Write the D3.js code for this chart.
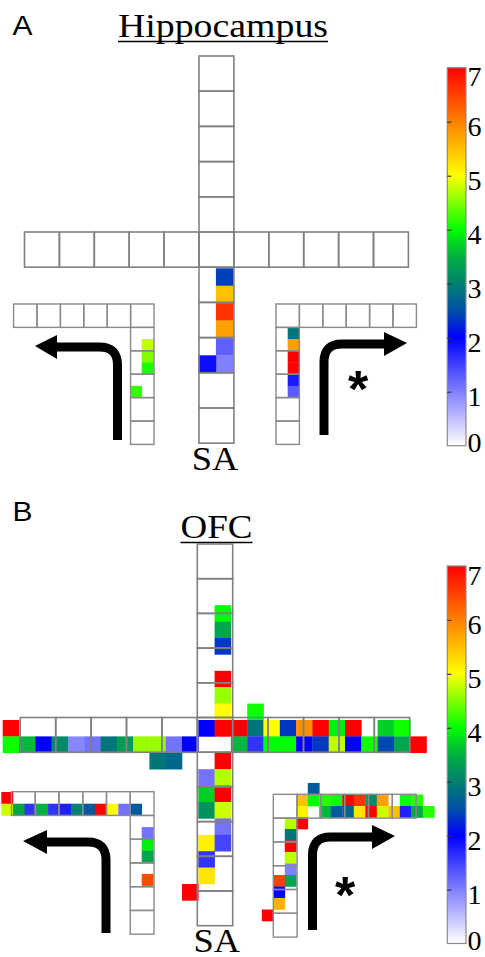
<!DOCTYPE html>
<html>
<head>
<meta charset="utf-8">
<script src="https://cdn.jsdelivr.net/npm/d3@7"></script>
<style>
  body { margin: 0; background: #fff; }
  text { font-family: "Liberation Serif", "Times New Roman", serif; }
</style>
</head>
<body>
<svg width="485" height="957"></svg>
<script>
// colour map used by both panels (value -> colour)
const cmapStops  = [0, 1, 2, 2.5, 3, 3.5, 4, 5, 6, 7];
const cmapColors = ["#ffffff", "#8080ff", "#0000ff", "#0050a8", "#008070", "#00b040", "#00ff00", "#ffff00", "#ff8000", "#ff0000"];
const cbTicks = [0, 1, 2, 3, 4, 5, 6, 7];

// data squares: [col, row, value], half-cell units
// Hippocampus
const hipMain  = [[1,2,2.4],[1,3,5.5],[1,4,6.6],[1,5,5.75],[1,6,1.25],[1,7,1.0],[0,7,1.9]];
const hipLeft  = [[1,3,4.75],[1,4,4.5],[1,5,4.1],[0,7,4.2]];
const hipRight = [[1,2,2.9],[1,3,5.75],[1,4,7],[1,5,7],[1,6,1.8],[1,7,1.3]];
// OFC
const ofcMain = [
  [1,-7,4.0],[1,-6,3.4],[1,-5,2.35],[1,-3,7],[1,-2,4.6],[1,-1,5.0],[3,-1,4.05],
  [-12,0,7],[0,0,2.0],[1,0,7],[2,0,7],[3,0,2.9],[4,0,5.0],[5,0,2.35],[6,0,5.9],[7,0,7],[8,0,3.9],[9,0,7],[11,0,3.7],[12,0,4.05],
  [-12,1,4.05],[-11,1,3.55],[-10,1,2.0],[-9,1,3.1],[-8,1,0.95],[-7,1,1.1],[-6,1,2.9],[-5,1,3.3],[-4,1,4.6],[-3,1,4.6],[-2,1,1.1],[-1,1,2.0],
  [2,1,3.55],[3,1,1.6],[4,1,4.0],[5,1,4.0],[6,1,2.0],[7,1,2.35],[8,1,4.75],[9,1,2.0],[10,1,4.05],[11,1,2.45],[12,1,3.4],[13,1,7],
  [-3,2,2.9],[-2,2,2.75],[1,2,7],
  [0,3,1.1],[1,3,4.7],[0,4,3.7],[1,4,7],[0,5,3.2],[1,5,4.8],[1,6,1.1],[0,7,5.1],[1,7,1.45],[0,8,1.6],[0,9,5.2],[-1,10,7]
];
const ofcLeft = [
  [-11,0,7],[-11,1,4.8],[-10,1,3.4],[-9,1,1.6],[-8,1,3.5],[-7,1,1.6],[-6,1,1.75],[-5,1,3.0],[-4,1,2.6],[-3,1,7],[-2,1,5.0],[-1,1,1.1],[0,1,2.6],
  [1,3,1.1],[1,4,3.9],[1,5,3.4],[1,7,6.4]
];
const ofcRight = [
  [3,-1,2.6],
  [2,0,5.5],[3,0,4.0],[4,0,4.15],[5,0,4.05],[6,0,7],[7,0,6.6],[8,0,3.1],[9,0,5.75],[11,0,4.0],[12,0,4.15],
  [2,1,5.1],[4,1,3.55],[5,1,2.6],[6,1,2.7],[7,1,5.2],[8,1,7],[9,1,4.8],[10,1,5.5],[11,1,1.75],[12,1,3.4],[13,1,4.15],
  [1,2,4.7],[2,2,7],[1,3,2.9],[1,4,7],[1,5,4.75],[1,6,1.0],[0,7,6.5],[1,7,3.4],[0,8,2.0],[0,9,5.6],[-1,10,7]
];

// layout of the two panels
const panels = [
  { letter: "A", letterY: 35, title: "Hippocampus", titleX: 223, titleY: 37, titleW: 210,
    plus: { x0: 199, y0: 232, cw: 34.9, ch: 35.2 },
    main: { data: hipMain, ox: 198.5, oy: 233.5, px: 17.4, py: 17.4 },
    left: { data: hipLeft, edge: 154, top: 304, s: 23.4, ox: 130, oy: 304, p: 11.7 },
    right: { data: hipRight, edge: 276, top: 304, s: 23.4, ox: 276, oy: 304, p: 11.7 },
    arrowL: { x: 117.5, y1: 440, yt: 347, xe: 57, tip: 35 },
    arrowR: { x: 324, y1: 435, yt: 344, xe: 384, tip: 407 },
    star: [358, 377], sa: [215, 470],
    cb: { top: 67.7, bottom: 445.7 } },
  { letter: "B", letterY: 521, title: "OFC", titleX: 216.5, titleY: 538, titleW: 72,
    plus: { x0: 197.3, y0: 717.5, cw: 35.4, ch: 34.7 },
    main: { data: ofcMain, ox: 198.3, oy: 720, px: 16.3, py: 16.4 },
    left: { data: ofcLeft, edge: 154, top: 791.7, s: 23.75, ox: 130, oy: 792, p: 11.7 },
    right: { data: ofcRight, edge: 273.3, top: 794.3, s: 23.8, ox: 273.3, oy: 794.5, p: 11.5 },
    arrowL: { x: 106, y1: 933, yt: 842, xe: 47, tip: 23 },
    arrowR: { x: 312.5, y1: 930, yt: 837, xe: 372, tip: 395 },
    star: [345, 883], sa: [216.7, 951.5],
    cb: { top: 566, bottom: 943.5 } }
];

const svg = d3.select("svg");
const color = d3.scaleLinear().domain(cmapStops).range(cmapColors).clamp(true);
const gridStroke = "#808080";

// colour bar gradient
const grad = svg.append("defs").append("linearGradient")
  .attr("id", "cbgrad").attr("x1", 0).attr("y1", 1).attr("x2", 0).attr("y2", 0);
grad.selectAll("stop").data(cmapStops).enter().append("stop")
  .attr("offset", d => d / 7)
  .attr("stop-color", (d, i) => cmapColors[i]);

function drawSquares(g, data, ox, oy, px, py) {
  const x = d3.scaleLinear().domain([0, 1]).range([ox, ox + px]);
  const y = d3.scaleLinear().domain([0, 1]).range([oy, oy + py]);
  g.selectAll(null).data(data).enter().append("rect")
    .attr("x", d => x(d[0]))
    .attr("y", d => y(d[1]))
    .attr("width", px + 0.3)
    .attr("height", py + 0.3)
    .attr("fill", d => color(d[2]));
}

function drawPlus(g, L) {
  const cells = [];
  for (let i = -5; i <= 5; i++) cells.push([i, 0]);
  for (let j = 1; j <= 5; j++) { cells.push([0, -j]); cells.push([0, j]); }
  g.selectAll(null).data(cells).enter().append("rect")
    .attr("x", d => L.x0 + d[0] * L.cw)
    .attr("y", d => L.y0 + d[1] * L.ch)
    .attr("width", L.cw).attr("height", L.ch)
    .attr("fill", "none").attr("stroke", gridStroke).attr("stroke-width", 1.6);
}

function drawSide(g, S, dir) {
  // dir -1: arm goes to the left of the corner, +1: to the right
  const cx = dir < 0 ? S.edge - S.s : S.edge;
  const cells = [];
  for (let k = 0; k < 6; k++) cells.push([cx + dir * k * S.s, S.top]);
  for (let j = 1; j <= 5; j++) cells.push([cx, S.top + j * S.s]);
  g.selectAll(null).data(cells).enter().append("rect")
    .attr("x", d => d[0]).attr("y", d => d[1])
    .attr("width", S.s).attr("height", S.s)
    .attr("fill", "none").attr("stroke", "#8a8a8a").attr("stroke-width", 1.4);
}

function drawArrow(g, A, dir) {
  const r = 18;
  g.append("path")
    .attr("d", `M${A.x},${A.y1} V${A.yt + r} Q${A.x},${A.yt} ${A.x + dir * r},${A.yt} H${A.xe}`)
    .attr("fill", "none").attr("stroke", "#000").attr("stroke-width", 9);
  g.append("path")
    .attr("d", `M${A.xe},${A.yt - 12} L${A.tip},${A.yt - 1} L${A.xe},${A.yt + 12} Z`)
    .attr("fill", "#000");
}

panels.forEach(P => {
  const g = svg.append("g");

  // panel letter and title
  g.append("text").attr("x", 12.5).attr("y", P.letterY)
    .style("font-family", "'Liberation Sans', Arial, sans-serif")
    .attr("font-size", 27).attr("textLength", 20).attr("lengthAdjust", "spacingAndGlyphs")
    .text(P.letter);
  g.append("text").attr("x", P.titleX - P.titleW / 2).attr("y", P.titleY)
    .attr("font-size", 33).attr("textLength", P.titleW).attr("lengthAdjust", "spacingAndGlyphs")
    .text(P.title);
  g.append("line")
    .attr("x1", P.titleX - P.titleW / 2).attr("x2", P.titleX + P.titleW / 2)
    .attr("y1", P.titleY + 4.5).attr("y2", P.titleY + 4.5)
    .attr("stroke", "#000").attr("stroke-width", 1.6);

  // coloured squares under the maze outline
  drawSquares(g, P.main.data, P.main.ox, P.main.oy, P.main.px, P.main.py);
  drawSquares(g, P.left.data, P.left.ox, P.left.oy, P.left.p, P.left.p);
  drawSquares(g, P.right.data, P.right.ox, P.right.oy, P.right.p, P.right.p);

  drawPlus(g, P.plus);
  drawSide(g, P.left, -1);
  drawSide(g, P.right, 1);

  drawArrow(g, P.arrowL, -1);
  drawArrow(g, P.arrowR, 1);

  g.append("text").attr("x", P.star[0]).attr("y", P.star[1] + 30)
    .attr("text-anchor", "middle")
    .style("font-family", "'Liberation Sans', Arial, sans-serif")
    .attr("font-size", 52).attr("font-weight", "bold").text("*");

  g.append("text").attr("x", P.sa[0] - 23.3).attr("y", P.sa[1])
    .attr("font-size", 33).attr("textLength", 46.6).attr("lengthAdjust", "spacingAndGlyphs")
    .text("SA");

  // colour bar
  const cbX = 447.3, cbW = 18.7;
  const cy = d3.scaleLinear().domain([0, 7]).range([P.cb.bottom, P.cb.top]);
  g.append("rect").attr("x", cbX).attr("y", P.cb.top)
    .attr("width", cbW).attr("height", P.cb.bottom - P.cb.top)
    .attr("fill", "url(#cbgrad)").attr("stroke", "#8a8a8a").attr("stroke-width", 1.2);
  const ax = g.append("g").attr("transform", `translate(${cbX},0)`)
    .call(d3.axisLeft(cy).tickValues(cbTicks.slice(1, -1)).tickSize(-4).tickFormat(""));
  ax.select(".domain").remove();
  ax.selectAll("line").attr("stroke", "#333").attr("stroke-width", 1.2);
  g.selectAll(null).data(cbTicks).enter().append("text")
    .attr("x", cbX + cbW + 1.5)
    .attr("y", d => Math.max(P.cb.top + 9, Math.min(P.cb.bottom - 3, cy(d) + 5)))
    .attr("dominant-baseline", "central")
    .attr("font-size", 28)
    .text(d => d);
});
</script>
</body>
</html>
